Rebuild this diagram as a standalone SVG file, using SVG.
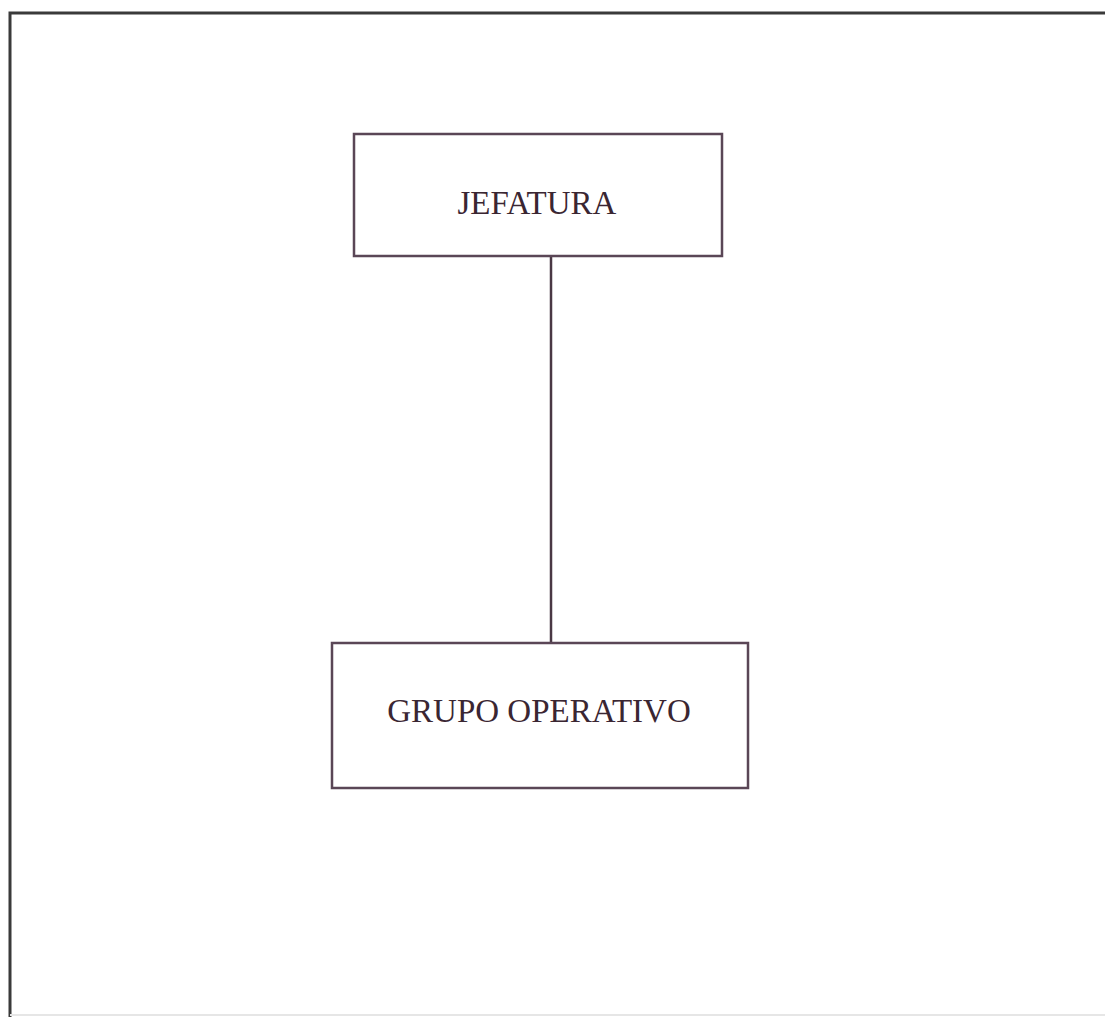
<svg xmlns="http://www.w3.org/2000/svg" width="1105" height="1017" viewBox="0 0 1105 1017">
<style>
.box{fill:#ffffff;stroke:#5a4656;stroke-width:2.5}
.lbl{font-family:"Liberation Serif",serif;font-size:33px;fill:#3a2632;text-anchor:middle}
.conn{stroke:#4a3844;stroke-width:2.5;fill:none}
</style>
<rect x="0" y="0" width="1105" height="1017" fill="#ffffff"/>
<path d="M10,1018 L10,13 L1110,13" fill="none" stroke="#3a3a3a" stroke-width="3"/>
<line x1="10" y1="1015" x2="1105" y2="1015" stroke="#e6e6e6" stroke-width="2"/>
<g id="connectors">
<line class="conn" x1="551" y1="256" x2="551" y2="643"/>
</g>
<g id="jefatura">
<rect class="box" x="354" y="134" width="368" height="122"/>
<text class="lbl" x="537" y="214">JEFATURA</text>
</g>
<g id="grupo-operativo">
<rect class="box" x="332" y="643" width="416" height="145"/>
<text class="lbl" x="539" y="722">GRUPO OPERATIVO</text>
</g>
</svg>
